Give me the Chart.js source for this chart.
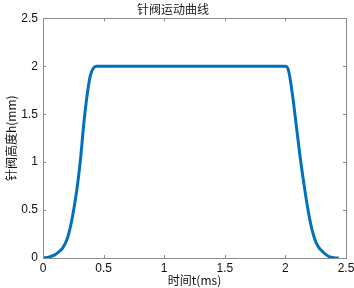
<!DOCTYPE html>
<html>
<head>
    <meta charset="utf-8">
    <style>
        body { margin: 0; background: white; }
        #wrap { width: 354px; height: 288px; }
    </style>
    <script src="https://cdn.jsdelivr.net/npm/chart.js@4.4.0/dist/chart.umd.min.js"></script>
</head>
<body>
    <div id="wrap"><canvas id="myChart"></canvas></div>

<script>
    // needle valve lift vs time
    var timeMs = [0, 0.03, 0.06, 0.1, 0.13, 0.16, 0.2, 0.24, 0.28, 0.31, 0.335, 0.36, 0.39, 0.415, 0.44,
                  2.0, 2.02, 2.035, 2.063, 2.09, 2.12, 2.159, 2.2, 2.241, 2.27, 2.296, 2.33, 2.36, 2.4, 2.44];
    var liftMm = [0, 0.005, 0.015, 0.035, 0.065, 0.1, 0.2, 0.41, 0.72, 1.04, 1.38, 1.66, 1.9, 1.98, 2.0,
                  2.0, 1.98, 1.9, 1.66, 1.38, 1.07, 0.72, 0.41, 0.2, 0.12, 0.08, 0.04, 0.015, 0.004, 0];
    var xTicks = [0, 0.5, 1, 1.5, 2, 2.5];
    var yTicks = [0, 0.5, 1, 1.5, 2, 2.5];

    var points = [];
    for (var i = 0; i < timeMs.length; i++) {
        points.push({ x: timeMs[i], y: liftMm[i] });
    }

    var axisColor = '#8a8a8a';
    var cjk = '"Noto Sans CJK SC", "Liberation Sans", sans-serif';
    var latin = '"Liberation Sans", Arial, sans-serif';

    function plainNumber(v) { return String(v); }

    // matlab style box with inward ticks on all four sides
    var boxPlugin = {
        id: 'box',
        afterDraw: function (chart) {
            var ctx = chart.ctx;
            var a = chart.chartArea;
            var xs = chart.scales.x, ys = chart.scales.y;
            var len = 3;
            ctx.save();
            ctx.strokeStyle = axisColor;
            ctx.lineWidth = 1;
            ctx.strokeRect(Math.round(a.left) + 0.5, Math.round(a.top) + 0.5,
                Math.round(a.right - a.left), Math.round(a.bottom - a.top));
            ctx.beginPath();
            xTicks.forEach(function (v) {
                var px = Math.round(xs.getPixelForValue(v)) + 0.5;
                ctx.moveTo(px, a.bottom); ctx.lineTo(px, a.bottom - len);
                ctx.moveTo(px, a.top); ctx.lineTo(px, a.top + len);
            });
            yTicks.forEach(function (v) {
                var py = Math.round(ys.getPixelForValue(v)) + 0.5;
                ctx.moveTo(a.left, py); ctx.lineTo(a.left + len, py);
                ctx.moveTo(a.right, py); ctx.lineTo(a.right - len, py);
            });
            ctx.stroke();
            ctx.restore();
        }
    };

    var chart = new Chart(document.getElementById('myChart').getContext('2d'), {
        type: 'line',
        data: {
            datasets: [{
                data: points,
                borderColor: 'rgb(0, 114, 189)',
                borderWidth: 3,
                pointRadius: 0,
                fill: false,
                cubicInterpolationMode: 'monotone'
            }]
        },
        options: {
            responsive: true,
            maintainAspectRatio: false,
            animation: false,
            layout: { padding: { left: 0, right: 8, top: 0, bottom: 0 } },
            plugins: {
                legend: { display: false },
                tooltip: { enabled: false },
                title: {
                    display: true,
                    text: '针阀运动曲线',
                    color: '#222',
                    font: { family: cjk, size: 12, weight: 'normal', lineHeight: 1.2 },
                    padding: { top: 2, bottom: 2 }
                }
            },
            scales: {
                x: {
                    type: 'linear',
                    min: 0, max: 2.5,
                    afterBuildTicks: function (s) { s.ticks = xTicks.map(function (v) { return { value: v }; }); },
                    afterFit: function (s) { s.height = 30; s.paddingLeft = 0; s.paddingRight = 0; },
                    grid: { display: false, drawTicks: false },
                    border: { display: false },
                    ticks: { color: '#111', padding: 3, maxRotation: 0, callback: plainNumber, font: { family: latin, size: 12 } },
                    title: {
                        display: true,
                        text: '时间t(ms)',
                        color: '#111',
                        font: { family: cjk, size: 12 },
                        padding: { top: 0, bottom: 0 }
                    }
                },
                y: {
                    min: 0, max: 2.5,
                    afterBuildTicks: function (s) { s.ticks = yTicks.map(function (v) { return { value: v }; }); },
                    afterFit: function (s) { s.width = 43; s.paddingTop = 0; s.paddingBottom = 0; },
                    grid: { display: false, drawTicks: false },
                    border: { display: false },
                    ticks: { color: '#111', padding: 5, callback: plainNumber, font: { family: latin, size: 12 } },
                    title: {
                        display: true,
                        text: '针阀高度h(mm)',
                        color: '#111',
                        font: { family: cjk, size: 12 },
                        padding: { top: 4, bottom: 0 }
                    }
                }
            }
        },
        plugins: [boxPlugin]
    });
</script>
</body>
</html>
